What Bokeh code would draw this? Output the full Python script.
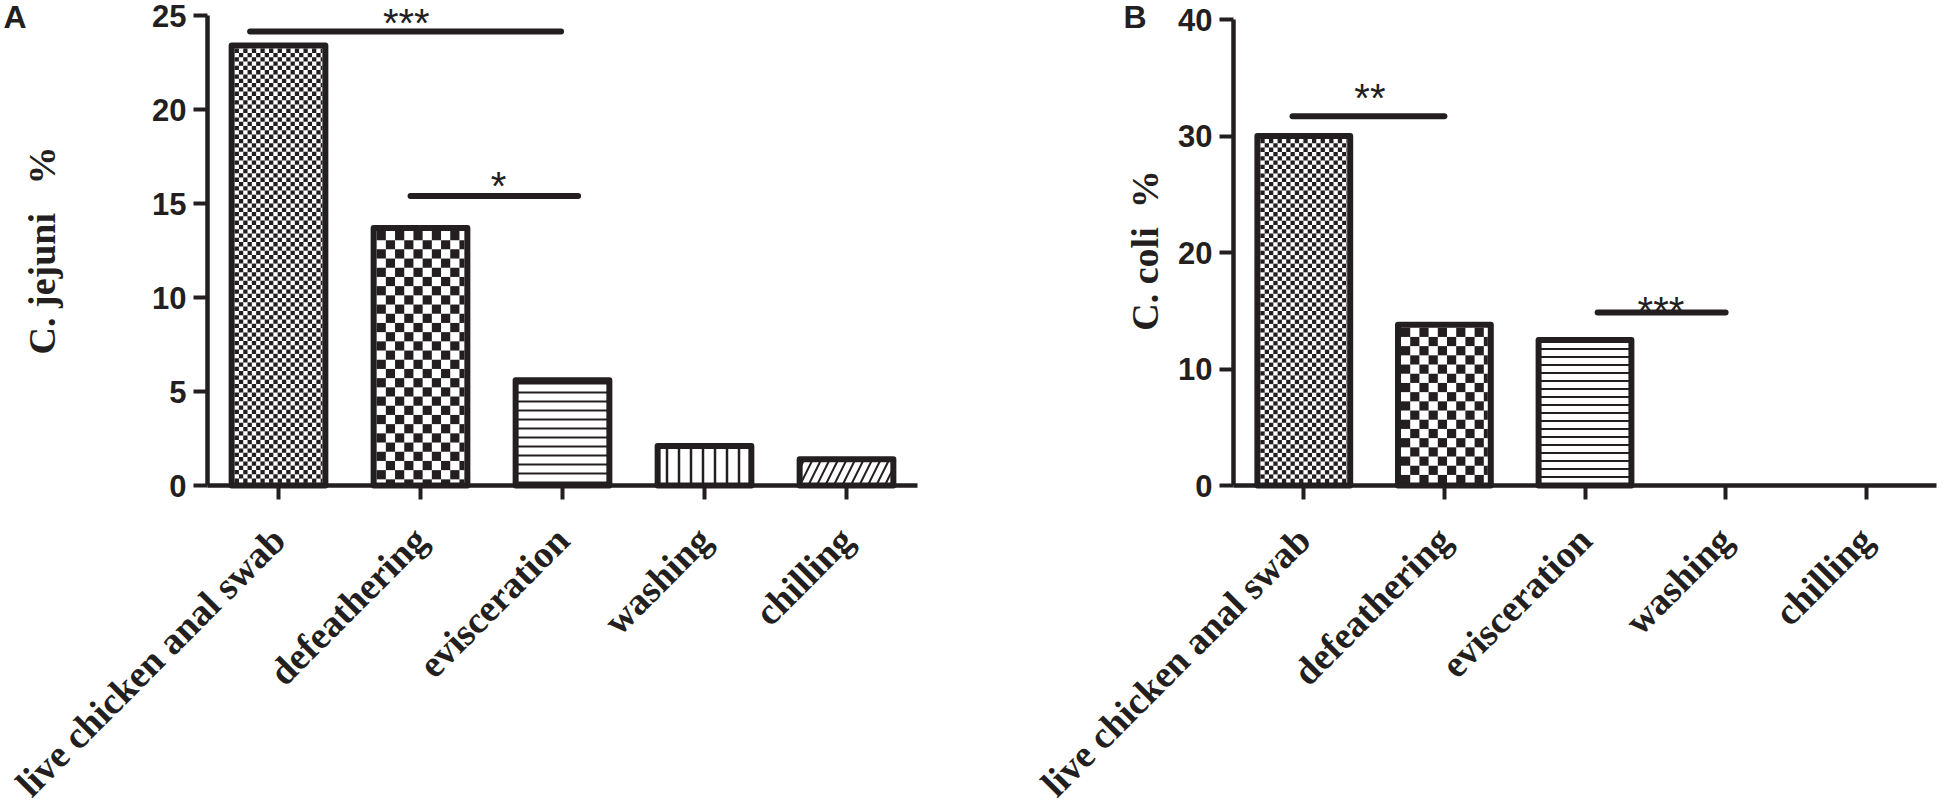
import math
from bokeh.plotting import figure
from bokeh.models import (ColumnDataSource, Range1d, FixedTicker, LinearAxis,
                          CDSView, IndexFilter)
from bokeh.layouts import row
from bokeh.core.properties import value
from bokeh.embed import file_html
from bokeh.resources import INLINE

# ---------------- data ----------------
CATEGORIES = ["live chicken anal swab", "defeathering", "evisceration", "washing", "chilling"]
JEJUNI_PCT = [23.4, 13.7, 5.6, 2.1, 1.4]
COLI_PCT = [30.0, 13.8, 12.5, 0.0, 0.0]
JEJUNI_TICKS = [0, 5, 10, 15, 20, 25]
COLI_TICKS = [0, 10, 20, 30, 40]

# significance brackets (x in category units from the axis start, y in %)
JEJUNI_SIG_START = [0.30, 1.43]
JEJUNI_SIG_END = [2.49, 2.61]
JEJUNI_SIG_Y = [24.15, 15.4]
JEJUNI_SIG_TEXT = ["***", "*"]
JEJUNI_SIG_TEXT_X = [1.40, 2.05]
JEJUNI_SIG_TEXT_Y = [24.6, 15.95]

COLI_SIG_START = [0.42, 2.59]
COLI_SIG_END = [1.50, 3.50]
COLI_SIG_Y = [31.7, 14.85]
COLI_SIG_TEXT = ["**", "***"]
COLI_SIG_TEXT_X = [0.97, 3.04]
COLI_SIG_TEXT_Y = [33.3, 15.0]

# ---------------- style / geometry (pixels) ----------------
INK = "#231f20"
CANVAS_H = 811
BASE_PX = 485            # vertical pixel of value 0 in both panels
BAR_W = 0.66
BORDER_PX = 6

# panel geometry: canvas width, x pixel of y axis, px per category, px per %
PANEL_A = dict(width=1000, axis_px=207, unit_px=142.0, ppu=18.8,
               title_px=(41, 250), letter_px=(3, 16))
PANEL_B = dict(width=950, axis_px=233, unit_px=140.6, ppu=11.65,
               title_px=(144, 250), letter_px=(123, 16))

BAR_PATTERNS = ["finechecker", "coarsechecker", "horizontal_line", "vertical_line", "right_diagonal_line"]
BAR_HATCH_SCALE = [4.3, 9.2, 9, 12, 17]
BAR_HATCH_WEIGHT = [1, 1, 2, 2.5, 2]

STAR_FONT = "40px"
CAT_FONT = "38px"
TITLE_FONT = "38px"
LETTER_FONT = "32px"


def checker_cells(center, half_w, top, cell_px, unit_px, ppu):
    inset = BORDER_PX / 2
    x0 = center - half_w + inset / unit_px
    x1 = center + half_w - inset / unit_px
    y1 = top - inset / ppu
    dx = cell_px / unit_px
    dy = cell_px / ppu
    L, R, T, B = [], [], [], []
    r = 0
    while y1 - r * dy > 0:
        y_hi = y1 - r * dy
        y_lo = max(0.0, y_hi - dy)
        k = 0
        while x0 + k * dx < x1:
            if (r + k) % 2 == 0:
                L.append(x0 + k * dx)
                R.append(min(x1, x0 + (k + 1) * dx))
                T.append(y_hi)
                B.append(y_lo)
            k += 1
        r += 1
    return L, R, T, B


def make_panel(geo, letter, ylabel, values, ticks, y_bound, hline_scale,
               sig_start, sig_end, sig_y, sig_tx, sig_ty, sig_text):
    W = geo["width"]
    ax_px, unit, ppu = geo["axis_px"], geo["unit_px"], geo["ppu"]
    to_x = lambda px: (px - ax_px) / unit
    to_y = lambda py: (BASE_PX - py) / ppu

    p = figure(x_range=Range1d(to_x(0), to_x(W)), y_range=Range1d(to_y(CANVAS_H), to_y(0)),
               width=W, height=CANVAS_H, frame_width=W, frame_height=CANVAS_H,
               min_border=0, x_axis_type=None, y_axis_type=None,
               output_backend="svg", toolbar_location=None)
    p.xgrid.visible = False
    p.ygrid.visible = False
    p.outline_line_color = None
    p.background_fill_color = "white"
    p.border_fill_color = "white"

    n = len(CATEGORIES)
    pos = [i + 0.5 for i in range(n)]

    # ---- bars
    src = ColumnDataSource(dict(x=pos, top=values, cat=CATEGORIES))
    shown = [i for i, v in enumerate(values) if v > 0]
    cells = dict(left=[], right=[], top=[], bottom=[])
    for i in shown:
        pat = BAR_PATTERNS[i]
        view = CDSView(filter=IndexFilter([i]))
        if pat.endswith("checker"):
            p.vbar(x="x", top="top", bottom=0, width=BAR_W, source=src, view=view,
                   fill_color="white", line_color=None)
            L, R, T, B = checker_cells(pos[i], BAR_W / 2, values[i],
                                       BAR_HATCH_SCALE[i], unit, ppu)
            cells["left"] += L
            cells["right"] += R
            cells["top"] += T
            cells["bottom"] += B
        else:
            sc = hline_scale if pat == "horizontal_line" else BAR_HATCH_SCALE[i]
            p.vbar(x="x", top="top", bottom=0, width=BAR_W, source=src, view=view,
                   fill_color="white", line_color=None, hatch_pattern=pat,
                   hatch_color=INK, hatch_scale=sc, hatch_weight=BAR_HATCH_WEIGHT[i])
    if cells["left"]:
        p.quad(source=ColumnDataSource(cells), left="left", right="right", top="top",
               bottom="bottom", fill_color=INK, line_color=None)
    p.vbar(x="x", top="top", bottom=0, width=BAR_W, source=src,
           view=CDSView(filter=IndexFilter(shown)), fill_color=None,
           line_color=INK, line_width=BORDER_PX, line_join="round")

    # ---- significance brackets
    p.segment(x0="x0", y0="y", x1="x1", y1="y",
              source=ColumnDataSource(dict(x0=sig_start, x1=sig_end, y=sig_y)),
              line_color=INK, line_width=6, line_cap="round")
    p.text(x="x", y="y", text="t",
           source=ColumnDataSource(dict(x=sig_tx, y=sig_ty, t=sig_text)),
           text_font=value("Liberation Sans"), text_font_size=STAR_FONT,
           text_align="center", text_baseline="alphabetic", text_color=INK)

    # ---- axes (fixed at the data origin)
    xa = LinearAxis(fixed_location=0, ticker=FixedTicker(ticks=pos),
                    major_label_overrides={x: c for x, c in zip(pos, CATEGORIES)},
                    bounds=(0, n))
    ya = LinearAxis(fixed_location=0, ticker=FixedTicker(ticks=ticks), bounds=(0, y_bound))
    for ax in (xa, ya):
        ax.axis_line_color = INK
        ax.axis_line_width = 4.5
        ax.major_tick_line_color = INK
        ax.major_tick_line_width = 4
        ax.major_tick_in = 0
        ax.major_tick_out = 14
        ax.minor_tick_line_color = None
        ax.major_label_text_color = INK
        ax.major_label_text_font_style = "bold"
    xa.major_label_orientation = math.pi / 4
    xa.major_label_text_font = "Liberation Serif"
    xa.major_label_text_font_size = CAT_FONT
    xa.major_label_standoff = 34
    ya.major_label_text_font = "Liberation Sans"
    ya.major_label_text_font_size = "31px"
    ya.major_label_standoff = 7
    p.add_layout(xa, "below")
    p.add_layout(ya, "left")

    # ---- y title and panel letter
    tx, ty = geo["title_px"]
    p.text(x=[to_x(tx)], y=[to_y(ty)], text=[ylabel], angle=math.pi / 2,
           text_font=value("Liberation Serif"), text_font_style="bold",
           text_font_size=TITLE_FONT, text_align="center", text_baseline="middle",
           text_color=INK)
    lx, ly = geo["letter_px"]
    p.text(x=[to_x(lx)], y=[to_y(ly)], text=[letter], text_align="left",
           text_font=value("Liberation Sans"), text_font_style="bold",
           text_font_size=LETTER_FONT, text_baseline="alphabetic", text_color=INK)
    return p


pA = make_panel(PANEL_A, "A", "C. jejuni\u00a0\u00a0\u00a0%", JEJUNI_PCT, JEJUNI_TICKS, 25, 9,
                JEJUNI_SIG_START, JEJUNI_SIG_END, JEJUNI_SIG_Y,
                JEJUNI_SIG_TEXT_X, JEJUNI_SIG_TEXT_Y, JEJUNI_SIG_TEXT)
pB = make_panel(PANEL_B, "B", "C. coli\u00a0\u00a0%", COLI_PCT, COLI_TICKS, 40, 8,
                COLI_SIG_START, COLI_SIG_END, COLI_SIG_Y,
                COLI_SIG_TEXT_X, COLI_SIG_TEXT_Y, COLI_SIG_TEXT)

layout = row(pA, pB)
open("out.html", "w").write(file_html(layout, INLINE))
